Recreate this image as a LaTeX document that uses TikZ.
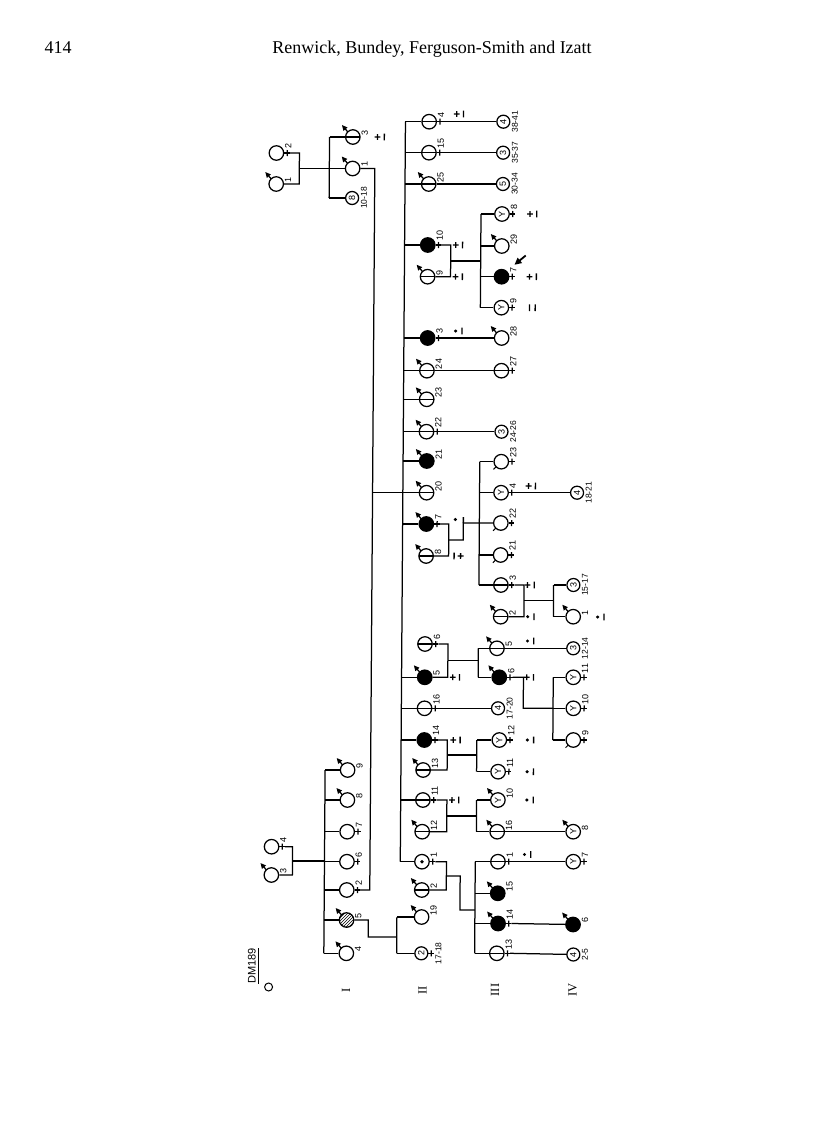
\documentclass[tikz,border=0pt]{standalone}
\usepackage{fontspec}
\setmainfont{Liberation Serif}
\newfontfamily\labfont{Liberation Sans}
\usepackage{graphicx}
\usetikzlibrary{arrows.meta,patterns}
\tikzset{
 ln/.style={line width=1.25pt},
 ind/.style={circle,draw,line width=1.25pt,minimum size=14.5pt,inner sep=0pt,font=\labfont\fontsize{9}{9}\selectfont},
 nc/.style={ind,minimum size=13pt},
 bar/.style={path picture={\draw[line width=1.25pt] (path picture bounding box.west) -- (path picture bounding box.east);}},
 aff/.style={fill=black},
 hat/.style={pattern=north east lines},
 dotc/.style={path picture={\fill (path picture bounding box.center) circle (1.9pt);}},
 lbl/.style={font=\labfont\fontsize{9}{9}\selectfont,rotate=90,inner sep=0pt,anchor=north west},
 rng/.style={font=\labfont\fontsize{8.5}{8.5}\selectfont,rotate=90,inner sep=0pt,anchor=north},
 gen/.style={font=\fontsize{12.5}{12.5}\selectfont,rotate=90,inner sep=0pt},
}
\newcommand\Fc[1]{\draw[ln] (#1.east) -- ++(5.5,0) coordinate (#1x); \draw[ln] ([shift={(2.9,-3)}]#1.east) -- ++(0,6);}
\newcommand\Ar[1]{\draw[ln,-{Triangle[length=5.5pt,width=5pt]}] ([shift={(-5,-5)}]#1.center) -- ++(-6,-7);}
\newcommand\Tk[1]{\draw[line width=1pt] ([shift={(-5.2,5.2)}]#1.center) -- ++(-2.5,2.5);}
\newcommand\Lf[2]{\node[lbl] at ([shift={(8.5,-4)}]#1.center) {#2};}
\newcommand\Lm[2]{\node[lbl] at ([shift={(8.5,-1.5)}]#1.center) {#2};}
\newcommand\Lr[2]{\node[rng] at ([shift={(8.5,0)}]#1.center) {#2};}
\newcommand\Pl[2]{\draw[line width=1.3pt] (#1-2.9,#2) -- (#1+2.9,#2) (#1,#2-2.9) -- (#1,#2+2.9);}
\newcommand\Dt[2]{\fill (#1,#2) circle (1.7pt);}
\newcommand\Br[2]{\draw[line width=1.3pt] (#1,#2-3.3) -- (#1,#2+3.3);}
\newcommand\Apb[2]{\Pl{#1-3}{#2}\Br{#1+3.8}{#2}}
\newcommand\Adb[2]{\Dt{#1-2.5}{#2}\Br{#1+3.8}{#2}}
\newcommand\Abp[2]{\Br{#1-3.5}{#2}\Pl{#1+3}{#2}}
\newcommand\Abb[2]{\Br{#1-2.8}{#2}\Br{#1+2.8}{#2}}
\begin{document}
\begin{tikzpicture}[x=1pt,y=-1pt]
\path[use as bounding box] (0,0) rectangle (816,1132);
\node[font=\fontsize{18}{18}\selectfont,anchor=base,inner sep=0pt] (pgno) at (58,54) {414};
\node[font=\fontsize{18}{18}\selectfont,anchor=base,inner sep=0pt] (runhead) at (432,54) {Renwick, Bundey, Ferguson-Smith and Izatt};
\begin{scope}[cm={1,0,0.007,1,(3.5,0)}]
% ---------------- pre-generation couples
\node[ind] (t2) at (274,153) {}; \Fc{t2} \Lf{t2}{2}
\node[ind] (t1) at (274,184) {}; \Ar{t1} \Lm{t1}{1}
\node[ind] (p4) at (274,846.7) {}; \Fc{p4} \Lf{p4}{4}
\node[ind] (p3) at (274,875) {}; \Ar{p3} \Lm{p3}{3}
% ---------------- generation I
\node[ind,bar] (a3) at (350.3,137) {}; \Ar{a3} \Lm{a3}{3}
\node[ind] (a1) at (350.3,168.5) {}; \Ar{a1} \Lm{a1}{1}
\node[nc] (a8) at (350,198) {\rotatebox{90}{8}}; \Lr{a8}{10-18}
\Apb{378}{137}
\node[ind] (b9) at (349.5,770) {}; \Ar{b9} \Lm{b9}{9}
\node[ind] (b8) at (349.5,800) {}; \Ar{b8} \Lm{b8}{8}
\node[ind] (b7) at (349.5,831.7) {}; \Fc{b7} \Lf{b7}{7}
\node[ind] (b6) at (349.5,861.7) {}; \Fc{b6} \Lf{b6}{6}
\node[ind] (b2) at (349.5,890) {}; \Fc{b2} \Lf{b2}{2}
\node[ind,hat] (b5) at (349.5,920) {}; \Ar{b5} \Lm{b5}{5}
\node[ind] (b4) at (349.5,953.3) {}; \Ar{b4} \Lm{b4}{4}
% ---------------- generation II
\node[ind,bar] (c4) at (426.5,121.7) {}; \Fc{c4} \Lf{c4}{4} \Apb{457}{114}
\node[ind,bar] (c15) at (426.5,152.7) {}; \Fc{c15} \Lf{c15}{15}
\node[ind,bar] (c25) at (426.5,184) {}; \Ar{c25} \Lm{c25}{25}
\node[ind,aff] (c10) at (426,245) {}; \Fc{c10} \Lf{c10}{10} \Apb{457}{245}
\node[ind,bar] (c9) at (426,276.7) {}; \Ar{c9} \Lm{c9}{9} \Apb{457}{276.7}
\node[ind,aff] (c3) at (426.5,338) {}; \Fc{c3} \Lf{c3}{3} \Adb{457}{331}
\node[ind,bar] (c24) at (426,370.7) {}; \Ar{c24} \Lm{c24}{24}
\node[ind,bar] (c23) at (426,399.3) {}; \Ar{c23} \Lm{c23}{23}
\node[ind,bar] (c22) at (426,431.7) {}; \Ar{c22} \Fc{c22} \Lf{c22}{22}
\node[ind,aff] (c21) at (426.5,461) {}; \Ar{c21} \Lm{c21}{21}
\node[ind,bar] (c20) at (426.5,492.7) {}; \Ar{c20} \Lm{c20}{20}
\node[ind,aff] (c7) at (426.5,524) {}; \Ar{c7} \Fc{c7} \Lf{c7}{7}
\Dt{455.5}{519.5} \draw[line width=1.3pt] (463.5,517) -- (463.5,523);
\node[ind,bar] (c8) at (426.5,556) {}; \Ar{c8} \Lm{c8}{8} \Abp{458}{556}
\node[ind,bar] (c6) at (426,644) {}; \Fc{c6} \Lf{c6}{6}
\node[ind,aff] (c5) at (426,677.3) {}; \Ar{c5} \Lm{c5}{5} \Apb{457}{677.3}
\node[ind,bar] (c16) at (426,708.3) {}; \Fc{c16} \Lf{c16}{16}
\node[ind,aff] (c14) at (426,740) {}; \Fc{c14} \Lf{c14}{14} \Apb{458}{740}
\node[ind,bar] (c13) at (425,770) {}; \Ar{c13} \Lm{c13}{13}
\node[ind,bar] (c11) at (425,800) {}; \Fc{c11} \Lf{c11}{11} \Apb{457}{800}
\node[ind,bar] (c12) at (424.5,831.7) {}; \Ar{c12} \Lm{c12}{12}
\node[ind,dotc] (c1) at (424.5,861.7) {}; \Fc{c1} \Lf{c1}{1}
\node[ind,bar] (c2) at (424.5,890) {}; \Ar{c2} \Lm{c2}{2}
\node[ind] (c19) at (424.5,917) {}; \Ar{c19} \Lm{c19}{19}
\node[nc] (c2b) at (424.5,953.3) {\rotatebox{90}{2}}; \Fc{c2b} \node[rng] at ([shift={(14,0)}]c2b.center) {17-18};
% ---------------- generation III
\node[nc] (dn4a) at (500.7,121.7) {\rotatebox{90}{4}}; \Lr{dn4a}{38-41}
\node[nc] (dn3a) at (500.7,152.7) {\rotatebox{90}{3}}; \Lr{dn3a}{35-37}
\node[nc] (dn5) at (500.7,184) {\rotatebox{90}{5}}; \Lr{dn5}{30-34}
\node[ind] (dY8) at (500,214) {\rotatebox{90}{Y}}; \Fc{dY8} \Lf{dY8}{8} \Apb{531}{214}
\node[ind] (d29) at (500,246) {}; \Ar{d29} \Lm{d29}{29}
\node[ind,aff] (d7) at (500,276.7) {}; \Fc{d7} \Lf{d7}{7} \Apb{531}{276.7}
\coordinate (pra) at (524,255.5); \coordinate (prb) at (512.8,264.8);
\draw[line width=1.8pt,-{Triangle[length=7pt,width=6.5pt]}] (pra) -- (prb);
\node[ind] (dY9) at (500,307.7) {\rotatebox{90}{Y}}; \Fc{dY9} \Lf{dY9}{9} \Abb{531}{307.7}
\node[ind] (d28) at (500.5,338) {}; \Ar{d28} \Lm{d28}{28}
\node[ind,bar] (d27) at (500.5,370.7) {}; \Fc{d27} \Lf{d27}{27}
\node[nc] (dn3b) at (501,431.7) {\rotatebox{90}{3}}; \Lr{dn3b}{24-26}
\node[ind] (d23) at (501,461.7) {}; \Tk{d23} \Fc{d23} \Lf{d23}{23}
\node[ind] (dY4) at (501,492.7) {\rotatebox{90}{Y}}; \Fc{dY4} \Lf{dY4}{4} \Apb{531.5}{486}
\node[ind] (d22) at (501,523) {}; \Tk{d22} \Fc{d22} \Lf{d22}{22}
\node[ind] (d21) at (501,555) {}; \Tk{d21} \Fc{d21} \Lf{d21}{21}
\node[ind,bar] (d3) at (501.5,585) {}; \Fc{d3} \Lf{d3}{3} \Apb{531}{585}
\node[ind,bar] (d2) at (501.5,616.7) {}; \Ar{d2} \Lm{d2}{2} \Adb{531}{616.7}
\node[ind,bar] (d5) at (498,648.3) {}; \Ar{d5} \Lm{d5}{5} \Adb{531}{641}
\node[ind,aff] (d6) at (500.5,677.3) {}; \Ar{d6} \Fc{d6} \Lf{d6}{6} \Apb{531}{677.3}
\node[nc] (dn4c) at (499.5,708.3) {\rotatebox{90}{4}}; \Lr{dn4c}{17-20}
\node[ind] (dY12) at (501,740) {\rotatebox{90}{Y}}; \Fc{dY12} \Lf{dY12}{12} \Adb{531.5}{740}
\node[ind] (dY11) at (500,771.7) {\rotatebox{90}{Y}}; \Fc{dY11} \Lf{dY11}{11} \Adb{531.5}{771.7}
\node[ind] (dY10) at (500,800) {\rotatebox{90}{Y}}; \Ar{dY10} \Lm{dY10}{10} \Adb{531.5}{800}
\node[ind,bar] (d16) at (499.5,831.7) {}; \Ar{d16} \Lm{d16}{16}
\node[ind,bar] (d1) at (500.5,861.7) {}; \Fc{d1} \Lf{d1}{1} \Adb{529.5}{854.5}
\node[ind,aff] (d15) at (500.5,893.3) {}; \Ar{d15} \Lm{d15}{15}
\node[ind,aff] (d14) at (501,923.5) {}; \Ar{d14} \Fc{d14} \Lf{d14}{14}
\node[ind,bar] (d13) at (500,953.3) {}; \Fc{d13} \Lf{d13}{13}
% ---------------- generation IV
\node[nc] (en4a) at (577,492.7) {\rotatebox{90}{4}}; \Lr{en4a}{18-21}
\node[nc] (en3a) at (574,585) {\rotatebox{90}{3}}; \Lr{en3a}{15-17}
\node[ind] (e1) at (574,616.7) {}; \Ar{e1} \Lm{e1}{1} \Adb{601}{617}
\node[nc] (en3b) at (574.3,648.3) {\rotatebox{90}{3}}; \Lr{en3b}{12-14}
\node[ind] (eY11) at (574.5,677.3) {\rotatebox{90}{Y}}; \Fc{eY11} \Lf{eY11}{11}
\node[ind] (eY10) at (574.8,708.3) {\rotatebox{90}{Y}}; \Fc{eY10} \Lf{eY10}{10}
\node[ind] (e9) at (575,740) {}; \Tk{e9} \Fc{e9} \Lf{e9}{9}
\node[ind] (eY8) at (575.5,831.7) {\rotatebox{90}{Y}}; \Ar{eY8} \Lm{eY8}{8}
\node[ind] (eY7) at (575.8,861.7) {\rotatebox{90}{Y}}; \Fc{eY7} \Lf{eY7}{7}
\node[ind,aff] (e6) at (576,924.5) {}; \Ar{e6} \Lm{e6}{6}
\node[nc] (en4c) at (576.5,954.5) {\rotatebox{90}{4}}; \Lr{en4c}{2-5}
% ---------------- junction coordinates
\coordinate (tma) at (297,153); \coordinate (tmb) at (297,184); \coordinate (tmm) at (297,168.5);
\coordinate (s1ta) at (327,137); \coordinate (s1tm) at (327,168.5); \coordinate (s1tb) at (327,198);
\coordinate (pma) at (295,846.7); \coordinate (pmb) at (295,875); \coordinate (pmm) at (295,861);
\coordinate (s1a) at (327,770); \coordinate (s1b) at (327,800); \coordinate (s1c) at (327,831.7);
\coordinate (s1d) at (327,861.7); \coordinate (s1e) at (327,890); \coordinate (s1f) at (327,920);
\coordinate (s1g) at (327,953.3); \coordinate (s1m) at (327,861);
\coordinate (la) at (372.5,168.5); \coordinate (lm) at (372.5,492.7); \coordinate (lb) at (372.5,890);
\coordinate (f5a) at (371.3,920); \coordinate (f5b) at (371.3,937); \coordinate (f5c) at (399.8,937);
\coordinate (s5a) at (399.8,917); \coordinate (s5b) at (399.8,953.3);
% ---------------- connectors
\draw[ln] (t2x) -- (tma) -- (tmb) -- (t1);
\draw[ln] (tmm) -- (s1tm);
\draw[ln] (s1ta) -- (s1tb);
\draw[ln] (s1ta) -- (a3); \draw[ln] (s1tm) -- (a1); \draw[ln] (s1tb) -- (a8);
\draw[ln] (p4x) -- (pma) -- (pmb) -- (p3);
\draw[ln] (pmm) -- (s1m);
\draw[ln] (s1a) -- (s1g);
\draw[ln] (s1a) -- (b9); \draw[ln] (s1b) -- (b8); \draw[ln] (s1c) -- (b7);
\draw[ln] (s1d) -- (b6); \draw[ln] (s1e) -- (b2); \draw[ln] (s1f) -- (b5); \draw[ln] (s1g) -- (b4);
\draw[ln] (a1) -- (la) -- (lb) -- (b2x);
\draw[ln] (b5) -- (f5a) -- (f5b) -- (f5c);
\draw[ln] (s5a) -- (s5b); \draw[ln] (s5a) -- (c19); \draw[ln] (s5b) -- (c2b);
% gen II sibship
\foreach \n/\yy in {c4/121.7,c15/152.7,c25/184,c10/245,c3/338,c24/370.7,c23/399.3,c22/431.7,c21/461,c20/492.7,c7/524,c5/677.3,c16/708.3,c14/740,c11/800,c1/861.7}{
  \coordinate (j\n) at (402.8,\yy); \draw[ln] (j\n) -- (\n);}
\draw[ln] (jc4) -- (jc1);
\draw[ln] (lm) -- (jc20);
% gen II to gen III single lines
\draw[ln] (c4x) -- (dn4a); \draw[ln] (c15x) -- (dn3a); \draw[ln] (c25) -- (dn5);
\draw[ln] (c3x) -- (d28); \draw[ln] (c24) -- (d27); \draw[ln] (c22x) -- (dn3b);
\draw[ln] (c16x) -- (dn4c);
% 10 x 9
\coordinate (m1a) at (449,245); \coordinate (m1b) at (449,276.7); \coordinate (m1m) at (449,261);
\coordinate (k1m) at (479,261); \coordinate (k1a) at (479,214); \coordinate (k1b) at (479,246);
\coordinate (k1c) at (479,276.7); \coordinate (k1d) at (479,307.7);
\draw[ln] (c10x) -- (m1a) -- (m1b) -- (c9); \draw[ln] (m1m) -- (k1m); \draw[ln] (k1a) -- (k1d);
\draw[ln] (k1a) -- (dY8); \draw[ln] (k1b) -- (d29); \draw[ln] (k1c) -- (d7); \draw[ln] (k1d) -- (dY9);
% 7 x 8
\coordinate (m2a) at (449,524); \coordinate (m2b) at (449,556); \coordinate (m2m) at (449,540);
\coordinate (m2j) at (463.5,540); \coordinate (m2k) at (463.5,523);
\coordinate (k2a) at (479.5,461.7); \coordinate (k2b) at (479.5,492.7); \coordinate (k2d) at (479.5,555);
\coordinate (k2e) at (479.5,585);
\draw[ln] (c7x) -- (m2a) -- (m2b) -- (c8); \draw[ln] (m2m) -- (m2j) -- (m2k) -- (d22);
\draw[ln] (k2a) -- (k2e);
\draw[ln] (k2a) -- (d23); \draw[ln] (k2b) -- (dY4); \draw[ln] (k2d) -- (d21); \draw[ln] (k2e) -- (d3);
\draw[ln] (dY4x) -- (en4a);
% gen III 3 x 2
\coordinate (n1a) at (524.7,585); \coordinate (n1b) at (524.7,616.7); \coordinate (n1m) at (524.7,600.8);
\coordinate (q1m) at (554.2,600.8); \coordinate (q1a) at (554.2,585); \coordinate (q1b) at (554.2,616.7);
\draw[ln] (d3x) -- (n1a) -- (n1b) -- (d2); \draw[ln] (n1m) -- (q1m); \draw[ln] (q1a) -- (q1b);
\draw[ln] (q1a) -- (en3a); \draw[ln] (q1b) -- (e1);
% 6 x 5
\coordinate (m3a) at (449,644); \coordinate (m3b) at (449,677.3); \coordinate (m3m) at (449,660.7);
\coordinate (k3m) at (479.4,660.7); \coordinate (k3a) at (479.4,648.3); \coordinate (k3b) at (479.4,677.3);
\draw[ln] (c6x) -- (m3a) -- (m3b) -- (c5); \draw[ln] (m3m) -- (k3m); \draw[ln] (k3a) -- (k3b);
\draw[ln] (k3a) -- (d5); \draw[ln] (k3b) -- (d6);
\draw[ln] (d5) -- (en3b);
\coordinate (n2a) at (524.7,677.3); \coordinate (n2b) at (524.7,708.3);
\coordinate (q2a) at (554.5,677.3); \coordinate (q2b) at (554.5,708.3); \coordinate (q2c) at (554.5,740);
\draw[ln] (d6x) -- (n2a) -- (n2b) -- (q2b); \draw[ln] (q2a) -- (q2c);
\draw[ln] (q2a) -- (eY11); \draw[ln] (q2b) -- (eY10); \draw[ln] (q2c) -- (e9);
% 14 x 13
\coordinate (m4a) at (449,740); \coordinate (m4b) at (449,770); \coordinate (m4m) at (449,755);
\coordinate (k4m) at (478.5,755); \coordinate (k4a) at (478.5,740); \coordinate (k4b) at (478.5,771.7);
\draw[ln] (c14x) -- (m4a) -- (m4b) -- (c13); \draw[ln] (m4m) -- (k4m); \draw[ln] (k4a) -- (k4b);
\draw[ln] (k4a) -- (dY12); \draw[ln] (k4b) -- (dY11);
% 11 x 12
\coordinate (m5a) at (449,800); \coordinate (m5b) at (449,831.7); \coordinate (m5m) at (449,816);
\coordinate (k5m) at (478.7,816); \coordinate (k5a) at (478.7,800); \coordinate (k5b) at (478.7,831.7);
\draw[ln] (c11x) -- (m5a) -- (m5b) -- (c12); \draw[ln] (m5m) -- (k5m); \draw[ln] (k5a) -- (k5b);
\draw[ln] (k5a) -- (dY10); \draw[ln] (k5b) -- (d16);
\draw[ln] (d16) -- (eY8);
% 1 x 2
\coordinate (m6a) at (449,861.7); \coordinate (m6b) at (449,890); \coordinate (m6m) at (449,876);
\coordinate (m6j) at (462.8,876); \coordinate (m6k) at (462.8,910); \coordinate (k6m) at (477.8,910);
\coordinate (k6a) at (477.8,861.7); \coordinate (k6b) at (477.8,893.3); \coordinate (k6c) at (477.8,923.5);
\coordinate (k6d) at (477.8,953.3);
\draw[ln] (c1x) -- (m6a) -- (m6b) -- (c2); \draw[ln] (m6m) -- (m6j) -- (m6k) -- (k6m);
\draw[ln] (k6a) -- (k6d);
\draw[ln] (k6a) -- (d1); \draw[ln] (k6b) -- (d15); \draw[ln] (k6c) -- (d14); \draw[ln] (k6d) -- (d13);
\draw[ln] (d1x) -- (eY7); \draw[ln] (d14x) -- (e6); \draw[ln] (d13x) -- (en4c);
% ---------------- generation labels and key
\node[gen] (gI) at (349.5,990) {I};
\node[gen] (gII) at (426,990) {II};
\node[gen] (gIII) at (498.5,990) {III};
\node[gen] (gIV) at (576,990) {IV};
\node[font=\labfont\fontsize{11}{11}\selectfont,rotate=90,inner sep=0pt] (dm) at (255,966) {DM189};
\draw[line width=1pt] ([xshift=2.2pt]dm.south west) -- ([xshift=2.2pt]dm.south east);
\node[circle,draw,line width=1pt,minimum size=8pt,inner sep=0pt] (key) at (272,987) {};
\end{scope}
\end{tikzpicture}
\end{document}
